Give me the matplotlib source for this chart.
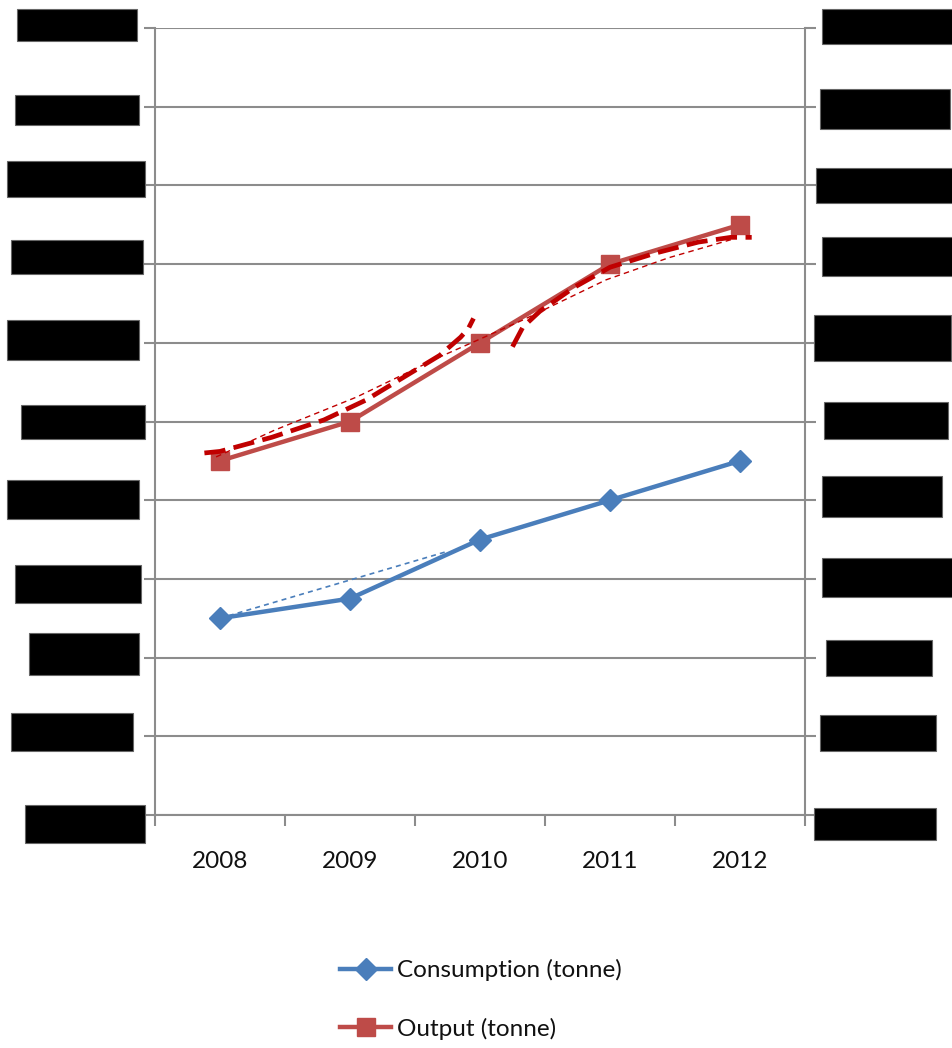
import matplotlib
matplotlib.use("Agg")
import matplotlib.pyplot as plt
from matplotlib.patches import Rectangle

# ---- data ----
years = ["2008", "2009", "2010", "2011", "2012"]
consumption = [2.5, 2.75, 3.5, 4.0, 4.5]
output = [4.5, 5.0, 6.0, 7.0, 7.5]

# hand-drawn trend lines (category index, value)
cons_trend_x = [0.0, 1.75]
cons_trend_y = [2.5, 3.35]
out_thin_x = [-0.03, 0.42, 1.05, 1.69, 2.33, 2.97, 3.45, 3.93]
out_thin_y = [4.55, 4.89, 5.31, 5.82, 6.29, 6.80, 7.08, 7.31]
out_thick1_x = [-0.12, 0.0, 0.4, 0.8, 1.12, 1.38, 1.69, 1.85, 1.91, 1.95]
out_thick1_y = [4.60, 4.62, 4.80, 5.02, 5.27, 5.53, 5.84, 6.07, 6.18, 6.31]
out_thick2_x = [2.25, 2.33, 2.46, 2.72, 3.0, 3.35, 3.68, 3.93, 4.09]
out_thick2_y = [5.95, 6.20, 6.40, 6.70, 6.96, 7.14, 7.28, 7.34, 7.34]

y_ticks = list(range(0, 11))

# redacted label boxes (pixel extents: x0, x1, y0, y1)
left_boxes = [(17, 137, 9, 41), (15, 139, 95, 125), (7, 145, 161, 197),
              (11, 143, 240, 274), (7, 139, 320, 360), (21, 145, 405, 439),
              (7, 139, 480, 519), (15, 141, 565, 603), (29, 139, 633, 675),
              (11, 133, 713, 751), (25, 145, 805, 843)]
right_boxes = [(822, 953, 9, 44), (820, 950, 89, 129), (816, 953, 168, 203),
               (822, 953, 237, 276), (814, 951, 315, 361), (824, 948, 402, 439),
               (822, 942, 476, 517), (822, 953, 558, 597), (826, 932, 640, 676),
               (820, 936, 715, 751), (814, 936, 808, 840)]

W, H = 953, 1048
BLUE = "#4A7EBB"
RED = "#BE4B48"
DARKRED = "#C00000"
GRID = "#8C8C8C"
TEXT = "#111111"

plt.rcParams["font.family"] = ["Lato", "DejaVu Sans"]

fig = plt.figure(figsize=(W / 100, H / 100), dpi=100)
ax = fig.add_axes([155 / W, 1 - 815 / H, 650 / W, 787 / H])

x = list(range(len(years)))

ax.plot(x, consumption, color=BLUE, lw=3.2, marker="D", markersize=11.5,
        label="Consumption (tonne)", zorder=3)
ax.plot(x, output, color=RED, lw=3.2, marker="s", markersize=13,
        label="Output (tonne)", zorder=3)

ax.plot(cons_trend_x, cons_trend_y, color=BLUE, lw=1.2, dashes=(3, 2.5), zorder=2)
ax.plot(out_thin_x, out_thin_y, color=DARKRED, lw=1.0, dashes=(4, 3), zorder=4)
ax.plot(out_thick1_x, out_thick1_y, color=DARKRED, lw=3.4, dashes=(4.5, 1.8),
        zorder=4)
ax.plot(out_thick2_x, out_thick2_y, color=DARKRED, lw=3.4, dashes=(4.5, 1.8),
        zorder=4)

ax.set_xlim(-0.5, 4.5)
ax.set_ylim(0, 10)

ax.set_yticks(y_ticks)
ax.set_yticklabels([])
ax.yaxis.grid(True, color=GRID, lw=1.5)
ax.tick_params(axis="y", left=True, right=True, direction="out", length=8,
               width=1.5, color=GRID)

ax.set_xticks([i - 0.5 for i in range(len(years) + 1)])
ax.set_xticklabels([])
ax.set_xticks(x, minor=True)
ax.set_xticklabels(years, minor=True, fontsize=17.5, color=TEXT)
ax.tick_params(axis="x", which="major", direction="out", length=8, width=1.5,
               color=GRID)
ax.tick_params(axis="x", which="minor", length=0, pad=26)

for s in ["left", "right", "bottom"]:
    ax.spines[s].set_color(GRID)
    ax.spines[s].set_linewidth(1.5)
ax.spines["top"].set_visible(False)

for (x0, x1, y0, y1) in left_boxes + right_boxes:
    fig.add_artist(Rectangle((x0 / W, 1 - y1 / H), (x1 - x0) / W, (y1 - y0) / H,
                             transform=fig.transFigure, facecolor="black",
                             edgecolor="#666666", lw=0.8))

leg = fig.legend(loc="upper left", bbox_to_anchor=(340 / W, 1 - 959 / H),
                 frameon=False, fontsize=17.5, handlelength=2.1, handletextpad=0.25,
                 labelspacing=1.5, borderpad=0, borderaxespad=0)
for t in leg.get_texts():
    t.set_color(TEXT)

fig.savefig("out.png", dpi=100)
